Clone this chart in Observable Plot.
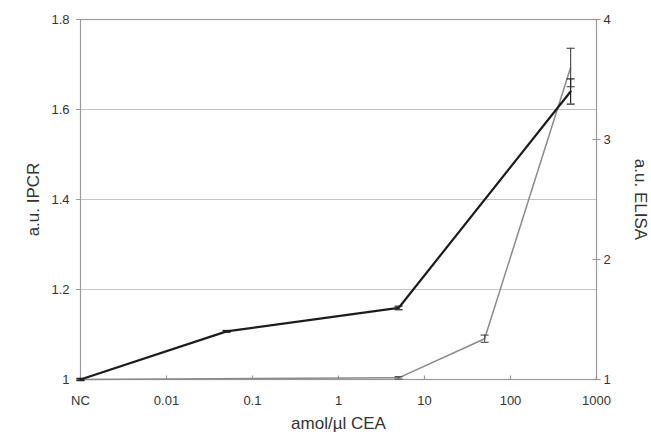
<!DOCTYPE html>
<html><head><meta charset="utf-8">
<script src="https://cdn.jsdelivr.net/npm/d3@7"></script>
<script src="https://cdn.jsdelivr.net/npm/@observablehq/plot@0.6"></script>
<style>
body{margin:0;background:#fff}
svg{font-family:"Liberation Sans",Arial,sans-serif}
</style>
</head><body><div id="chart"></div>
<script>
// NC (negative control) is plotted at 0.001 on the log axis
const ipcrConc = [0.001, 0.05, 5, 500];
const ipcrValues = [1.0, 1.107, 1.159, 1.64];
const ipcrErrors = [0.002, 0.002, 0.004, 0.028];
const elisaConc = [0.001, 5, 50, 500];
const elisaValues = [1.0, 1.014, 1.34, 3.6];
const elisaErrors = [0.01, 0.01, 0.03, 0.16];
const xTicks = [0.001, 0.01, 0.1, 1, 10, 100, 1000];
const xTickLabels = ["NC", "0.01", "0.1", "1", "10", "100", "1000"];
const leftTicks = [1, 1.2, 1.4, 1.6, 1.8];
const gridTicks = [1.2, 1.4, 1.6, 1.8];
const rightTicks = [1, 2, 3, 4];
const leftDomain = [1, 1.8];
const rightDomain = [1, 4];
const xDomain = [0.001, 1000];

const toLeft = e => leftDomain[0] + (e - rightDomain[0]) * (leftDomain[1] - leftDomain[0]) / (rightDomain[1] - rightDomain[0]);
const fromLeft = v => rightDomain[0] + (v - leftDomain[0]) * (rightDomain[1] - rightDomain[0]) / (leftDomain[1] - leftDomain[0]);

const ipcr = ipcrConc.map((c, i) => ({x: c, y: ipcrValues[i], lo: ipcrValues[i] - ipcrErrors[i], hi: ipcrValues[i] + ipcrErrors[i]}));
const elisa = elisaConc.map((c, i) => ({x: c, y: toLeft(elisaValues[i]), lo: toLeft(elisaValues[i] - elisaErrors[i]), hi: toLeft(elisaValues[i] + elisaErrors[i])}));

const cap = {draw(ctx) { ctx.moveTo(-4, 0); ctx.lineTo(4, 0); }};
const crossTick = {draw(ctx) { ctx.moveTo(-4, 0); ctx.lineTo(4, 0); }};
const upTick = {draw(ctx) { ctx.moveTo(0, 0); ctx.lineTo(0, -4); }};
const tickCol = "#9a9a9a", textCol = "#333";

const chart = Plot.plot({
  width: 651, height: 435,
  marginLeft: 80, marginRight: 55, marginTop: 19, marginBottom: 56,
  style: {fontSize: "13px", fontFamily: "Liberation Sans, Arial, sans-serif", background: "#fff"},
  x: {type: "log", domain: xDomain},
  y: {domain: leftDomain},
  marks: [
    Plot.ruleY(gridTicks, {stroke: "#c4c4c4", strokeWidth: 1.2}),
    Plot.frame({stroke: tickCol, strokeWidth: 1.2}),
    Plot.axisY(leftTicks, {anchor: "left", tickSize: 4, tickPadding: 7, stroke: tickCol, fill: textCol, label: null, tickFormat: d => String(d)}),
    Plot.axisY(rightTicks.map(toLeft), {anchor: "right", tickSize: 0, tickPadding: 7, fill: textCol, label: null, tickFormat: d => String(Math.round(fromLeft(d)))}),
    Plot.dot(rightTicks.map(toLeft), {x: () => xDomain[1], y: d => d, symbol: crossTick, stroke: tickCol, strokeWidth: 1.2}),
    Plot.axisX(xTicks, {anchor: "bottom", tickSize: 0, tickPadding: 16, fill: textCol, label: null, tickFormat: d => xTickLabels[xTicks.indexOf(d)]}),
    Plot.dot(xTicks, {x: d => d, y: () => leftDomain[0], symbol: upTick, stroke: tickCol, strokeWidth: 1.2}),
    Plot.line(elisa, {x: "x", y: "y", stroke: "#8a8a8a", strokeWidth: 1.5}),
    Plot.ruleX(elisa, {x: "x", y1: "lo", y2: "hi", stroke: "#555", strokeWidth: 1.2}),
    Plot.dot(elisa, {x: "x", y: "lo", symbol: cap, stroke: "#555", strokeWidth: 1.2}),
    Plot.dot(elisa, {x: "x", y: "hi", symbol: cap, stroke: "#555", strokeWidth: 1.2}),
    Plot.line(ipcr, {x: "x", y: "y", stroke: "#1c1c1c", strokeWidth: 2.2}),
    Plot.ruleX(ipcr, {x: "x", y1: "lo", y2: "hi", stroke: "#222", strokeWidth: 1.2}),
    Plot.dot(ipcr, {x: "x", y: "lo", symbol: cap, stroke: "#222", strokeWidth: 1.2}),
    Plot.dot(ipcr, {x: "x", y: "hi", symbol: cap, stroke: "#222", strokeWidth: 1.2}),
    Plot.text(["a.u. IPCR"], {text: d => d, frameAnchor: "left", dx: -47, rotate: -90, textAnchor: "middle", lineAnchor: "middle", fontSize: 17, fill: textCol}),
    Plot.text(["a.u. ELISA"], {text: d => d, frameAnchor: "right", dx: 44, rotate: 90, textAnchor: "middle", lineAnchor: "middle", fontSize: 17, fill: textCol}),
    Plot.text(["amol/µl CEA"], {text: d => d, frameAnchor: "bottom", dy: 44, textAnchor: "middle", lineAnchor: "middle", fontSize: 17, fill: textCol})
  ]
});
document.getElementById("chart").appendChild(chart);
</script>
</body></html>
